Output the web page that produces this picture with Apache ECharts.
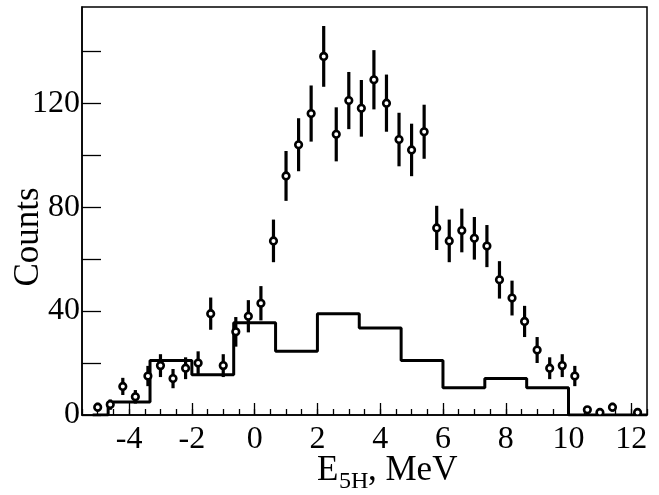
<!DOCTYPE html>
<html><head><meta charset="utf-8">
<script src="https://cdn.jsdelivr.net/npm/echarts@6/dist/echarts.min.js"></script>
<style>html,body{margin:0;padding:0;background:#fff}#c{width:659px;height:495px}</style>
</head><body><div id="c"></div>
<script>
// Data points (x = energy, MeV)
const pointX = [-5.0,-4.6,-4.2,-3.8,-3.4,-3.0,-2.6,-2.2,-1.8,-1.4,-1.0,-0.6,-0.2,0.2,0.6,1.0,1.4,1.8,2.2,2.6,3.0,3.4,3.8,4.2,4.6,5.0,5.4,5.8,6.2,6.6,7.0,7.4,7.8,8.2,8.6,9.0,9.4,9.8,10.2,10.6,11.0,11.4,12.2];
const pointY = [3,4,11,7,15,19,14,18,20,39,19,32,38,43,67,92,104,116,138,108,121,118,129,120,106,102,109,72,67,71,68,65,52,45,36,25,18,19,15,2,1,3,1];
const pointErr = [1.7,2,3.3,2.6,3.9,4.4,3.7,4.2,4.5,6.2,4.4,5.7,6.2,6.6,8.2,9.6,10.2,10.8,11.7,10.4,11,10.9,11.4,11,10.3,10.1,10.4,8.5,8.2,8.4,8.2,8.1,7.2,6.7,6,5,4.2,4.4,3.9,1.4,1,1.7,1];
// Histogram (left edges and contents)
const histEdges = [-5.16,-4.667,-3.333,-2.0,-0.667,0.667,2.0,3.333,4.667,6.0,7.333,8.667,10.0,12.5];
const histValues = [0,5,21,15.5,35.5,24.5,39,33.5,21,10.5,14,10.5,0,0];
// Axis labels
const xLabelTicks = [-4,-2,0,2,4,6,8,10,12];
const yLabelTicks = [0,40,80,120];
const yTicks = [0,20,40,60,80,100,120,140];

const xMinor = [];
for (let v = -5.5; v <= 12.5 + 1e-9; v += 0.5) xMinor.push(Math.round(v * 10) / 10);

const FONT = '"Liberation Serif", "Times New Roman", serif';
const chart = echarts.init(document.getElementById('c'), null, {renderer: 'canvas'});
const pts = pointX.map((x, i) => [x, pointY[i], pointErr[i]]);
const hist = histEdges.map((x, i) => [x, histValues[i]]);

chart.setOption({
  animation: false,
  backgroundColor: '#fff',
  grid: {left: 82, right: 12, top: 7, bottom: 80, show: true, borderColor: '#000', borderWidth: 1.5, backgroundColor: 'transparent'},
  xAxis: [{
    type: 'value', min: -5.5, max: 12.5, position: 'bottom',
    axisLine: {show: true, onZero: false, lineStyle: {color: '#000', width: 1.5}},
    axisTick: {show: true, inside: true, length: 6, customValues: xMinor, lineStyle: {color: '#000', width: 1.3}},
    axisLabel: {show: true, customValues: xLabelTicks, margin: 9, color: '#000', fontFamily: FONT, fontSize: 32},
    splitLine: {show: false}
  }, {
    type: 'value', min: -5.5, max: 12.5, position: 'bottom', gridIndex: 0,
    axisLine: {show: false, onZero: false},
    axisTick: {show: true, inside: true, length: 12, customValues: xLabelTicks, lineStyle: {color: '#000', width: 1.3}},
    axisLabel: {show: false},
    splitLine: {show: false}
  }],
  yAxis: [{
    type: 'value', min: 0, max: 157,
    axisLine: {show: true, onZero: false, lineStyle: {color: '#000', width: 1.5}},
    axisTick: {show: true, inside: true, length: 19, customValues: yTicks, lineStyle: {color: '#000', width: 1.3}},
    axisLabel: {show: true, customValues: yLabelTicks, margin: 2, color: '#000', fontFamily: FONT, fontSize: 32},
    splitLine: {show: false}
  }],
  graphic: [
    {type: 'text', x: 29, y: 237, rotation: Math.PI / 2, style: {text: 'Counts', font: '35px ' + FONT, fill: '#000', align: 'center', verticalAlign: 'middle'}},
    {type: 'text', x: 317, y: 471, style: {text: 'E', font: '35px ' + FONT, fill: '#000', align: 'left', verticalAlign: 'middle'}},
    {type: 'text', x: 339, y: 482, style: {text: '5H', font: '24px ' + FONT, fill: '#000', align: 'left', verticalAlign: 'middle'}},
    {type: 'text', x: 368, y: 471, style: {text: ', MeV', font: '35px ' + FONT, fill: '#000', align: 'left', verticalAlign: 'middle'}}
  ],
  series: [{
    type: 'line', xAxisIndex: 0, yAxisIndex: 0, data: hist, step: 'end', showSymbol: false, symbol: 'none',
    lineStyle: {color: '#000', width: 3}, z: 2, clip: true
  }, {
    type: 'custom', xAxisIndex: 0, yAxisIndex: 0, data: pts, z: 3, clip: true,
    renderItem: function (params, api) {
      const x = api.value(0), y = api.value(1), e = api.value(2);
      const c = api.coord([x, y]);
      const lo = api.coord([x, Math.max(0, y - e)]);
      const hi = api.coord([x, y + e]);
      return {type: 'group', children: [
        {type: 'line', shape: {x1: c[0], y1: lo[1], x2: c[0], y2: hi[1]}, style: {stroke: '#000', lineWidth: 3.2}},
        {type: 'circle', shape: {cx: c[0], cy: c[1], r: 3.3}, style: {fill: '#fff', stroke: '#000', lineWidth: 2.6}}
      ]};
    }
  }]
});
</script></body></html>
